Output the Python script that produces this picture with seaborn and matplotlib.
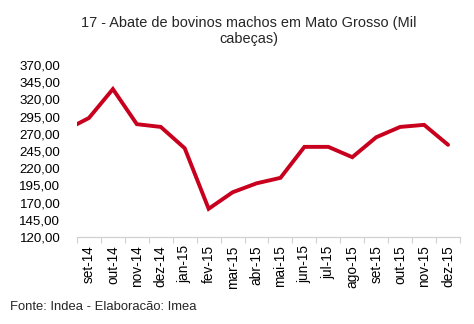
import numpy as np
import pandas as pd
import matplotlib
matplotlib.use("Agg")
import matplotlib.pyplot as plt
import seaborn as sns

# Monthly slaughter of male cattle in Mato Grosso (thousand head)
months = ["ago-14", "set-14", "out-14", "nov-14", "dez-14", "jan-15", "fev-15",
          "mar-15", "abr-15", "mai-15", "jun-15", "jul-15", "ago-15", "set-15",
          "out-15", "nov-15", "dez-15"]
abate = [275, 293, 335, 284, 280, 249, 161, 185, 198, 206, 251, 251, 236,
         265, 280, 283, 254]
shown_months = months[1:]
yticks = [120, 145, 170, 195, 220, 245, 270, 295, 320, 345, 370]

sns.set_theme(style="white")
plt.rcParams["font.family"] = ["Liberation Sans", "DejaVu Sans"]

df = pd.DataFrame({"pos": np.arange(len(months)) - 1, "mes": months, "abate": abate})

fig = plt.figure(figsize=(4.74, 3.24), dpi=100)
ax = fig.add_axes([0.1624, 0.2685, 0.8081, 0.5309])

sns.lineplot(data=df, x="pos", y="abate", ax=ax, color="#c8001e",
             linewidth=2.8, solid_joinstyle="miter", clip_on=True)

ax.set_xlim(-0.5, len(shown_months) - 0.5)
ax.set_ylim(120, 370)
ax.set_yticks(yticks)
ax.set_yticklabels([f"{v:.2f}".replace(".", ",") for v in yticks], fontsize=9.6)
ax.set_xticks(np.arange(len(shown_months)))
ax.set_xticklabels(shown_months, rotation=90, fontsize=9.8)
ax.set_xticks(np.arange(len(shown_months) + 1) - 0.5, minor=True)
ax.tick_params(axis="x", which="major", length=0, pad=6, colors="black")
ax.tick_params(axis="x", which="minor", length=4, width=0.8, color="#d0d0d0",
               direction="out", bottom=True)
ax.tick_params(axis="y", length=0, pad=12, colors="black")
ax.set_xlabel("")
ax.set_ylabel("")

for side in ["top", "right", "left"]:
    ax.spines[side].set_visible(False)
ax.spines["bottom"].set_color("#d0d0d0")
ax.spines["bottom"].set_linewidth(0.9)

fig.text(0.524, 0.928, "17 - Abate de bovinos machos em Mato Grosso (Mil",
         ha="center", va="center", fontsize=10.45)
fig.text(0.524, 0.880, "cabeças)", ha="center", va="center", fontsize=10.45)
fig.text(0.022, 0.052, "Fonte: Indea - Elaboracão: Imea", ha="left", va="center",
         fontsize=9.4)

fig.savefig("out.png", dpi=100)
